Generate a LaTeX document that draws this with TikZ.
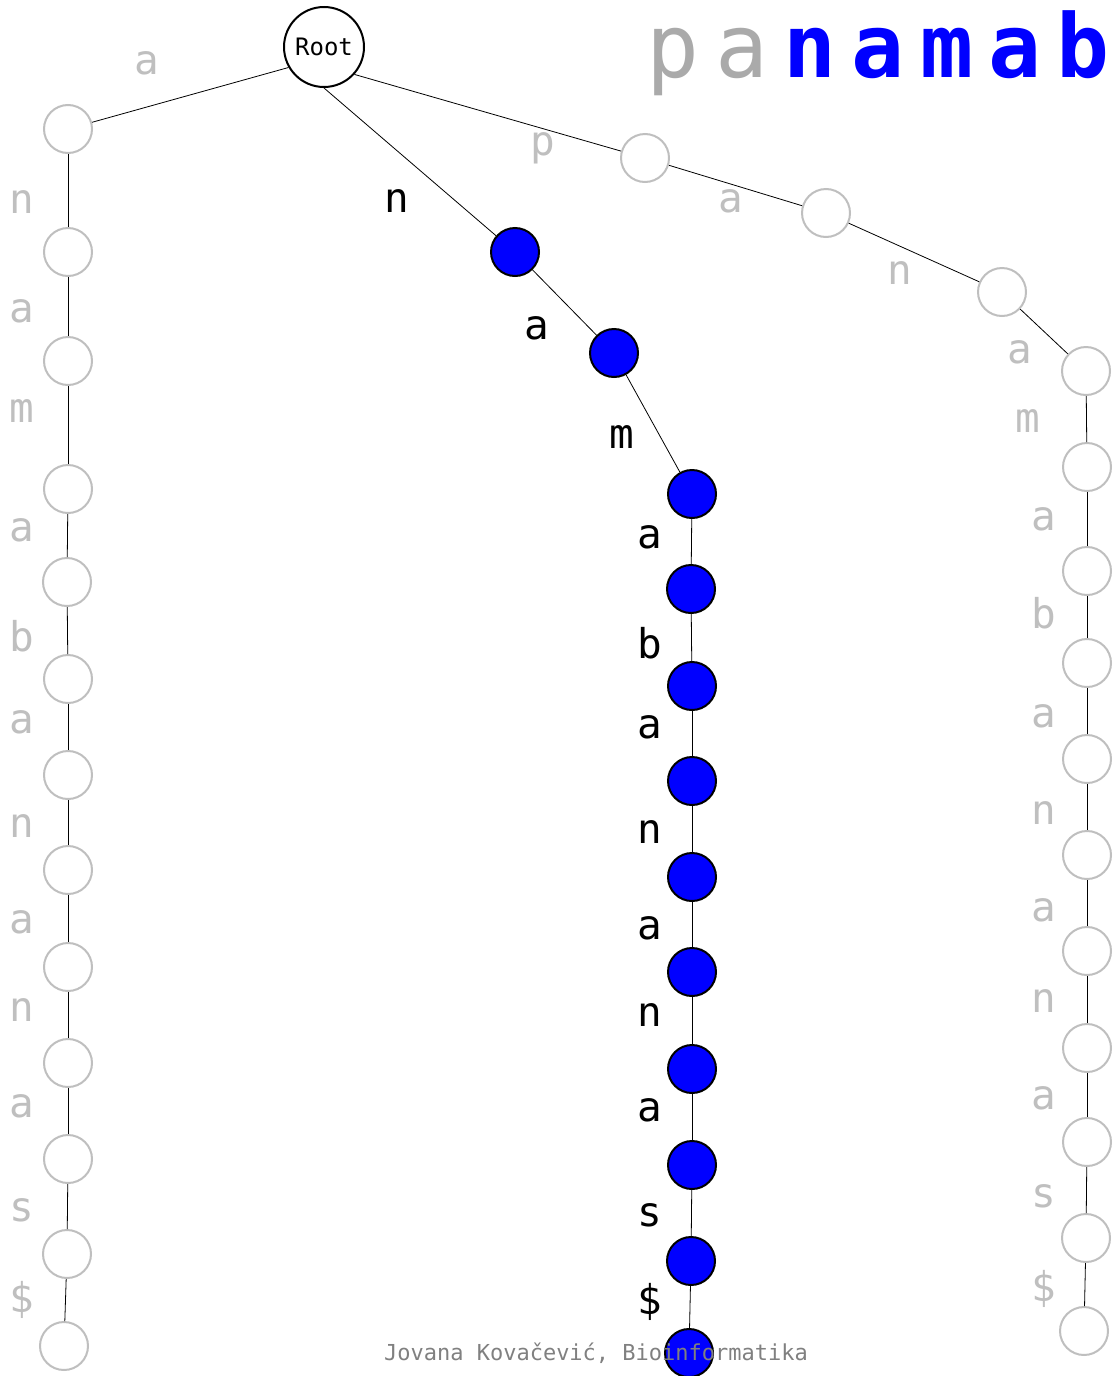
\documentclass[tikz,border=0pt]{standalone}
\usepackage{fontspec}
\setmonofont{DejaVu Sans Mono}
\usepackage{tikz}

\definecolor{faded}{HTML}{BFBFBF}
\definecolor{fadedtitle}{HTML}{AAAAAA}

\begin{document}
\begin{tikzpicture}[x=1pt, y=-1pt, font=\ttfamily,
    trienode/.style={circle, minimum size=48pt, inner sep=0pt, line width=2pt},
    pathnode/.style={trienode, draw=black, fill=blue},
    othernode/.style={trienode, draw=faded, fill=white},
    edge/.style={line width=0.8pt, black},
    letter/.style={font=\ttfamily\fontsize{41}{41}\selectfont},
    otherletter/.style={letter, text=faded}]
    \useasboundingbox (0,0) rectangle (1114,1376);

    % Root
    \node[circle, draw, line width=2pt, fill=white, minimum size=80pt, inner sep=0pt,
          font=\ttfamily\fontsize{24}{24}\selectfont]
        (root) at (324,47) {Root};
    \coordinate (L0) at (root.-150);
    \coordinate (M0) at (root.south);
    \coordinate (R0) at (root.-42);

    % Word being searched
    \foreach \x/\ch in {673/p, 742/a}
        \node[text=fadedtitle, font=\ttfamily\fontsize{88}{88}\selectfont, anchor=base]
            (t\ch\x) at (\x,77) {\ch};
    \foreach \x/\ch in {810/n, 878/a, 947/m, 1015/a, 1083/b}
        \node[text=blue, font=\ttfamily\bfseries\fontsize{88}{88}\selectfont, anchor=base]
            (t\ch\x) at (\x,77) {\ch};

    % Branch a: anamabananas$
    \foreach \i/\x/\y/\lx/\ly/\ch in {1/68/129/147/63/a, 2/68/252/22/202/n,
        3/68/361/22/311/a, 4/68/489/22/411/m, 5/67/582/22/530/a,
        6/68/679/22/636/b, 7/68/775/22/722/a, 8/68/870/22/826/n,
        9/68/967/22/922/a, 10/68/1063/22/1010/n, 11/68/1159/22/1106/a,
        12/67/1254/22/1210/s, 13/64/1346/22/1300/\$} {
        \pgfmathtruncatemacro\j{\i-1}
        \node[othernode] (L\i) at (\x,\y) {};
        \draw[edge] (L\j) -- (L\i);
        \node[otherletter] (lL\i) at (\lx,\ly) {\ch};
    }

    % Branch p: panamabananas$
    \foreach \i/\x/\y/\lx/\ly/\ch in {1/645/158/543/148/p, 2/826/213/731/201/a,
        3/1002/292/900/273/n, 4/1086/371/1020/352/a, 5/1087/467/1028/421/m,
        6/1087/571/1044/519/a, 7/1087/663/1044/613/b, 8/1087/759/1044/716/a,
        9/1087/855/1044/813/n, 10/1087/951/1044/910/a, 11/1087/1048/1044/1001/n,
        12/1087/1142/1044/1098/a, 13/1086/1238/1044/1196/s, 14/1084/1331/1044/1289/\$} {
        \pgfmathtruncatemacro\j{\i-1}
        \node[othernode] (R\i) at (\x,\y) {};
        \draw[edge] (R\j) -- (R\i);
        \node[otherletter] (lR\i) at (\lx,\ly) {\ch};
    }

    % Branch n: namabananas$ (the match)
    \foreach \i/\x/\y/\lx/\ly/\ch in {1/515/252/397/201/n, 2/614/353/537/328/a,
        3/692/494/622/437/m, 4/691/589/650/537/a, 5/692/686/650/643/b,
        6/692/781/650/727/a, 7/692/877/650/832/n, 8/692/972/650/928/a,
        9/692/1069/650/1015/n, 10/692/1165/650/1110/a, 11/691/1261/650/1215/s,
        12/689/1353/650/1302/\$} {
        \pgfmathtruncatemacro\j{\i-1}
        \node[pathnode] (M\i) at (\x,\y) {};
        \draw[edge] (M\j) -- (M\i);
        \node[letter] (lM\i) at (\lx,\ly) {\ch};
    }

    % Footer
    \node[text=gray, font=\ttfamily\fontsize{22}{22}\selectfont] (credit) at (596,1353)
        {Jovana Kovačević, Bioinformatika};
\end{tikzpicture}
\end{document}
